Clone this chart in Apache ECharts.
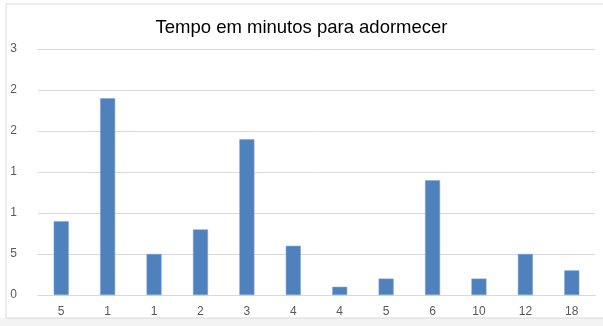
<!DOCTYPE html>
<html>
<head>
<meta charset="utf-8">
<script src="https://cdn.jsdelivr.net/npm/echarts@6/dist/echarts.min.js"></script>
<style>
html,body{margin:0;padding:0;background:#fff;}
#c{width:603px;height:326px;}
</style>
</head>
<body>
<div id="c"></div>
<script>
const title = "Tempo em minutos para adormecer";
const categories = ["5","1","1","2","3","4","4","5","6","10","12","18"];
const values = [0.9, 2.4, 0.5, 0.8, 1.9, 0.6, 0.1, 0.2, 1.4, 0.2, 0.5, 0.3];
const yTickLabels = ["0","5","1","1","2","2","3"];

const chart = echarts.init(document.getElementById('c'), null, {renderer:'canvas'});
chart.setOption({
  animation:false,
  backgroundColor:'#fff',
  title:{
    text:title, left:'center', top:13,
    textStyle:{fontFamily:'Liberation Sans, Arial, sans-serif', fontSize:18.5, fontWeight:'normal', color:'#000'}
  },
  grid:{left:38, right:8, top:49, bottom:31},
  xAxis:{
    type:'category', data:categories,
    axisLine:{show:true, lineStyle:{color:'#d9d9d9'}},
    axisTick:{show:false},
    axisLabel:{margin:11, color:'#595959', fontSize:12, fontFamily:'Liberation Sans, Arial, sans-serif'}
  },
  yAxis:{
    type:'value', min:0, max:3, interval:0.5,
    axisLine:{show:false}, axisTick:{show:false},
    splitLine:{lineStyle:{color:'#d9d9d9'}},
    axisLabel:{
      margin:21, color:'#595959', fontSize:12, fontFamily:'Liberation Sans, Arial, sans-serif',
      formatter:function(v){ return yTickLabels[Math.round(v/0.5)]; }
    }
  },
  series:[{
    type:'bar', data:values, barWidth:15,
    itemStyle:{color:'#4f81bd', borderColor:'#7fa3d0', borderWidth:0.5}
  }],
  graphic:[
    {type:'rect', z:100, shape:{x:0, y:318, width:603, height:8}, style:{fill:'#f3f3f3'}},
    {type:'rect', z:101, shape:{x:6, y:4, width:640, height:314}, style:{fill:'none', stroke:'#d9d9d9', lineWidth:1}}
  ]
});
</script>
</body>
</html>
